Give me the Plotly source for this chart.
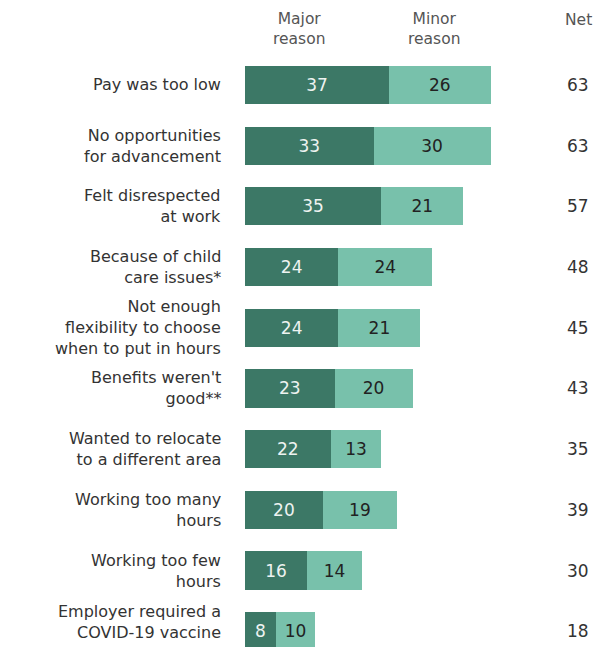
import plotly.graph_objects as go

categories = [
    "Pay was too low",
    "No opportunities<br>for advancement",
    "Felt disrespected<br>at work",
    "Because of child<br>care issues*",
    "Not enough<br>flexibility to choose<br>when to put in hours",
    "Benefits weren't<br>good**",
    "Wanted to relocate<br>to a different area",
    "Working too many<br>hours",
    "Working too few<br>hours",
    "Employer required a<br>COVID-19 vaccine",
]
major = [37, 33, 35, 24, 24, 23, 22, 20, 16, 8]
minor = [26, 30, 21, 24, 21, 20, 13, 19, 14, 10]
net = [63, 63, 57, 48, 45, 43, 35, 39, 30, 18]

DARK = "#3c7866"
LIGHT = "#78c1ab"
FONT = "DejaVu Sans, Verdana, sans-serif"

pos = list(range(len(categories)))

fig = go.Figure()
fig.add_trace(go.Bar(
    y=pos, x=major, orientation="h", marker=dict(color=DARK, line=dict(width=0)),
    text=[str(v) for v in major], textposition="inside", insidetextanchor="middle",
    textfont=dict(color="#eef3f1", size=17, family=FONT), width=0.63, name="Major reason",
))
fig.add_trace(go.Bar(
    y=pos, x=minor, orientation="h", marker=dict(color=LIGHT, line=dict(width=0)),
    text=[str(v) for v in minor], textposition="inside", insidetextanchor="middle",
    textfont=dict(color="#222222", size=17, family=FONT), width=0.63, name="Minor reason",
))

ann = []
for i, c in enumerate(categories):
    last = i == len(categories) - 1
    ann.append(dict(x=-5.5, y=(i - 0.15) if last else i, xref="x", yref="y", text=c, showarrow=False,
                    xanchor="right", yanchor="middle", align="right",
                    font=dict(size=16, color="#333333", family=FONT)))
    ann.append(dict(x=85.5, y=i, xref="x", yref="y", text=str(net[i]), showarrow=False,
                    xanchor="center", yanchor="middle",
                    font=dict(size=17, color="#333333", family=FONT)))
ann.append(dict(x=14, y=-0.92, xref="x", yref="y", text="Major<br>reason", showarrow=False,
                xanchor="center", yanchor="middle", font=dict(size=15.5, color="#555555", family=FONT)))
ann.append(dict(x=48.5, y=-0.92, xref="x", yref="y", text="Minor<br>reason", showarrow=False,
                xanchor="center", yanchor="middle", font=dict(size=15.5, color="#555555", family=FONT)))
ann.append(dict(x=85.5, y=-1.07, xref="x", yref="y", text="Net", showarrow=False,
                xanchor="center", yanchor="middle", font=dict(size=15.5, color="#555555", family=FONT)))

fig.update_layout(
    barmode="stack", width=597, height=647,
    margin=dict(l=0, r=0, t=0, b=0),
    paper_bgcolor="white", plot_bgcolor="white",
    showlegend=False, annotations=ann,
    uniformtext=dict(minsize=10, mode="show"),
    xaxis=dict(range=[-62.8, 90.3], visible=False, fixedrange=True),
    yaxis=dict(range=[9.26, -1.40], visible=False, fixedrange=True),
)
fig.write_html("out.html")
